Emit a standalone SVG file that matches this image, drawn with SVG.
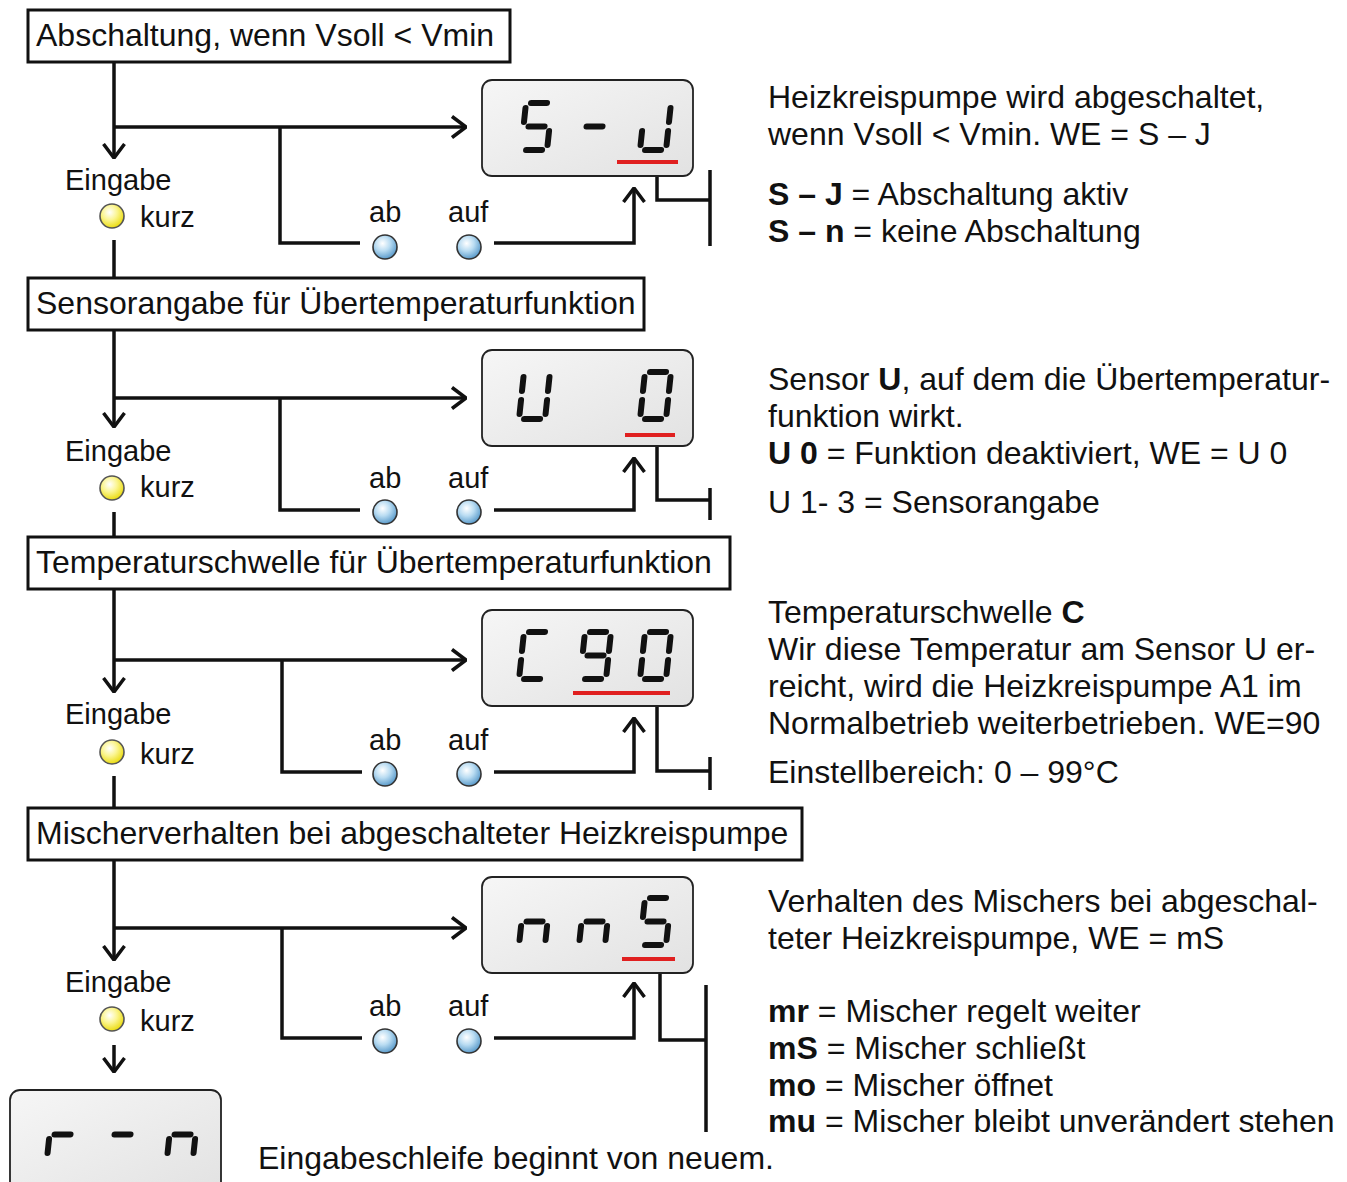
<svg xmlns="http://www.w3.org/2000/svg" xmlns:xlink="http://www.w3.org/1999/xlink" width="1347" height="1182" viewBox="0 0 1347 1182">
<style>
text{font-family:"Liberation Sans",Arial,sans-serif;fill:#111}
.h{font-size:32px}
.t{font-size:32px}
.l{font-size:29px}
.b{font-weight:bold}
.hdr{fill:#fff;stroke:#111;stroke-width:3}
.ln{fill:none;stroke:#111;stroke-width:3.5}
.disp{fill:url(#dg);stroke:#222;stroke-width:1.8}
.seg{stroke:#111;stroke-width:6;stroke-linecap:round}
.red{stroke:#e02020;stroke-width:4}
.bl{fill:url(#bg);stroke:#333;stroke-width:1.6}
.ye{fill:url(#yg);stroke:#555;stroke-width:1.6}
</style>
<defs>
<linearGradient id="dg" x1="0" y1="0" x2="1" y2="1">
<stop offset="0" stop-color="#f6f6f6"/><stop offset="1" stop-color="#e2e2e2"/>
</linearGradient>
<radialGradient id="bg" cx="0.4" cy="0.35" r="0.7">
<stop offset="0" stop-color="#ffffff"/><stop offset="0.45" stop-color="#b9dcf2"/><stop offset="1" stop-color="#4f93c6"/>
</radialGradient>
<radialGradient id="yg" cx="0.4" cy="0.35" r="0.7">
<stop offset="0" stop-color="#ffffff"/><stop offset="0.45" stop-color="#fbf590"/><stop offset="1" stop-color="#e8d800"/>
</radialGradient>
<marker id="arr" viewBox="0 0 16 24" refX="15" refY="12" markerWidth="16" markerHeight="24" orient="auto" markerUnits="userSpaceOnUse">
<path d="M1,1.5 L15,12 L1,22.5" fill="none" stroke="#111" stroke-width="3.5"/>
</marker>
<line id="sa" class="seg" x1="5" y1="0" x2="21" y2="0"/>
<line id="sb" class="seg" x1="26" y1="5" x2="26" y2="19"/>
<line id="sc" class="seg" x1="26" y1="28" x2="26" y2="42"/>
<line id="sd" class="seg" x1="5" y1="47" x2="21" y2="47"/>
<line id="se" class="seg" x1="0" y1="28" x2="0" y2="42"/>
<line id="sf" class="seg" x1="0" y1="5" x2="0" y2="19"/>
<line id="sg" class="seg" x1="5" y1="23.5" x2="21" y2="23.5"/>
<g id="dS"><use href="#sa"/><use href="#sf"/><use href="#sg"/><use href="#sc"/><use href="#sd"/></g>
<g id="dMinus"><use href="#sg"/></g>
<g id="dJ"><use href="#sb"/><use href="#sc"/><use href="#sd"/><use href="#se"/></g>
<g id="dU"><use href="#sb"/><use href="#sc"/><use href="#sd"/><use href="#se"/><use href="#sf"/></g>
<g id="d0"><use href="#sa"/><use href="#sb"/><use href="#sc"/><use href="#sd"/><use href="#se"/><use href="#sf"/></g>
<g id="dC"><use href="#sa"/><use href="#sd"/><use href="#se"/><use href="#sf"/></g>
<g id="d9"><use href="#sa"/><use href="#sb"/><use href="#sc"/><use href="#sd"/><use href="#sf"/><use href="#sg"/></g>
<g id="dn"><use href="#sc"/><use href="#se"/><use href="#sg"/></g>
<g id="dr"><use href="#se"/><use href="#sg"/></g>
</defs>

<g id="connectors">
<line class="ln" x1="114" y1="62" x2="114" y2="158" marker-end="url(#arr)"/>
<line class="ln" x1="114" y1="127" x2="466" y2="127" marker-end="url(#arr)"/>
<polyline class="ln" points="280,127 280,243 360,243"/>
<polyline class="ln" points="494,243 634,243 634,188" marker-end="url(#arr)"/>
<polyline class="ln" points="657,163 657,200 710,200"/>
<line class="ln" x1="710" y1="170" x2="710" y2="246"/>
<line class="ln" x1="114" y1="240" x2="114" y2="278"/>
<line class="ln" x1="114" y1="330" x2="114" y2="427" marker-end="url(#arr)"/>
<line class="ln" x1="114" y1="398" x2="466" y2="398" marker-end="url(#arr)"/>
<polyline class="ln" points="280,398 280,510 360,510"/>
<polyline class="ln" points="494,510 634,510 634,458" marker-end="url(#arr)"/>
<polyline class="ln" points="657,436 657,500 710,500"/>
<line class="ln" x1="710" y1="488" x2="710" y2="520"/>
<line class="ln" x1="114" y1="512" x2="114" y2="537"/>
<line class="ln" x1="114" y1="589" x2="114" y2="692" marker-end="url(#arr)"/>
<line class="ln" x1="114" y1="660" x2="466" y2="660" marker-end="url(#arr)"/>
<polyline class="ln" points="282,660 282,772 362,772"/>
<polyline class="ln" points="494,772 634,772 634,718" marker-end="url(#arr)"/>
<polyline class="ln" points="657,694 657,771 710,771"/>
<line class="ln" x1="710" y1="757" x2="710" y2="790"/>
<line class="ln" x1="114" y1="776" x2="114" y2="808"/>
<line class="ln" x1="114" y1="860" x2="114" y2="960" marker-end="url(#arr)"/>
<line class="ln" x1="114" y1="928" x2="466" y2="928" marker-end="url(#arr)"/>
<polyline class="ln" points="282,928 282,1038 362,1038"/>
<polyline class="ln" points="494,1038 634,1038 634,983" marker-end="url(#arr)"/>
<polyline class="ln" points="660,960 660,1040 706,1040"/>
<line class="ln" x1="706" y1="985" x2="706" y2="1132"/>
<line class="ln" x1="114" y1="1045" x2="114" y2="1072" marker-end="url(#arr)"/>
</g>

<g id="hdr1"><rect class="hdr" x="28" y="10" width="482" height="52"/><text class="h" x="36" y="46">Abschaltung, wenn Vsoll &lt; Vmin</text></g>
<g id="disp1"><rect class="disp" x="482" y="80" width="211" height="96" rx="10"/>
<g transform="translate(526,103) skewX(-6)"><use href="#dS"/></g>
<g transform="translate(584,103) skewX(-6)"><use href="#dMinus"/></g>
<g transform="translate(645,103) skewX(-6)"><use href="#dJ"/></g>
<line class="red" x1="617" y1="162" x2="678" y2="162"/></g>
<g id="in1"><text class="l" x="65" y="190">Eingabe</text><circle class="ye" cx="112" cy="216" r="12"/><text class="l" x="140" y="227">kurz</text></g>
<g id="ab1"><text class="l" x="369" y="222">ab</text><circle class="bl" cx="385" cy="247" r="12"/></g>
<g id="auf1"><text class="l" x="448" y="222">auf</text><circle class="bl" cx="469" cy="247" r="12"/></g>
<g id="txt1">
<text class="t" x="768" y="108">Heizkreispumpe wird abgeschaltet,</text>
<text class="t" x="768" y="145">wenn Vsoll &lt; Vmin. WE = S – J</text>
<text class="t" x="768" y="205"><tspan class="b">S – J</tspan> = Abschaltung aktiv</text>
<text class="t" x="768" y="242"><tspan class="b">S – n</tspan> = keine Abschaltung</text>
</g>

<g id="hdr2"><rect class="hdr" x="28" y="278" width="616" height="52"/><text class="h" x="36" y="314">Sensorangabe für Übertemperaturfunktion</text></g>
<g id="disp2"><rect class="disp" x="482" y="350" width="211" height="96" rx="10"/>
<g transform="translate(524,372) skewX(-6)"><use href="#dU"/></g>
<g transform="translate(645,372) skewX(-6)"><use href="#d0"/></g>
<line class="red" x1="625" y1="435" x2="675" y2="435"/></g>
<g id="in2"><text class="l" x="65" y="461">Eingabe</text><circle class="ye" cx="112" cy="488" r="12"/><text class="l" x="140" y="497">kurz</text></g>
<g id="ab2"><text class="l" x="369" y="488">ab</text><circle class="bl" cx="385" cy="512" r="12"/></g>
<g id="auf2"><text class="l" x="448" y="488">auf</text><circle class="bl" cx="469" cy="512" r="12"/></g>
<g id="txt2">
<text class="t" x="768" y="390">Sensor <tspan class="b">U</tspan>, auf dem die Übertemperatur-</text>
<text class="t" x="768" y="427">funktion wirkt.</text>
<text class="t" x="768" y="464"><tspan class="b">U 0</tspan> = Funktion deaktiviert, WE = U 0</text>
<text class="t" x="768" y="513">U 1- 3 = Sensorangabe</text>
</g>

<g id="hdr3"><rect class="hdr" x="28" y="537" width="702" height="52"/><text class="h" x="36" y="573">Temperaturschwelle für Übertemperaturfunktion</text></g>
<g id="disp3"><rect class="disp" x="482" y="610" width="211" height="96" rx="10"/>
<g transform="translate(524,632) skewX(-6)"><use href="#dC"/></g>
<g transform="translate(585,632) skewX(-6)"><use href="#d9"/></g>
<g transform="translate(645,632) skewX(-6)"><use href="#d0"/></g>
<line class="red" x1="573" y1="693" x2="670" y2="693"/></g>
<g id="in3"><text class="l" x="65" y="724">Eingabe</text><circle class="ye" cx="112" cy="752" r="12"/><text class="l" x="140" y="764">kurz</text></g>
<g id="ab3"><text class="l" x="369" y="750">ab</text><circle class="bl" cx="385" cy="774" r="12"/></g>
<g id="auf3"><text class="l" x="448" y="750">auf</text><circle class="bl" cx="469" cy="774" r="12"/></g>
<g id="txt3">
<text class="t" x="768" y="623">Temperaturschwelle <tspan class="b">C</tspan></text>
<text class="t" x="768" y="660">Wir diese Temperatur am Sensor U er-</text>
<text class="t" x="768" y="697">reicht, wird die Heizkreispumpe A1 im</text>
<text class="t" x="768" y="734">Normalbetrieb weiterbetrieben. WE=90</text>
<text class="t" x="768" y="783">Einstellbereich: 0 – 99°C</text>
</g>

<g id="hdr4"><rect class="hdr" x="28" y="808" width="774" height="52"/><text class="h" x="36" y="844">Mischerverhalten bei abgeschalteter Heizkreispumpe</text></g>
<g id="disp4"><rect class="disp" x="482" y="877" width="211" height="96" rx="10"/>
<g transform="translate(524,898) skewX(-6)"><use href="#dn"/></g>
<g transform="translate(584,898) skewX(-6)"><use href="#dn"/></g>
<g transform="translate(645,898) skewX(-6)"><use href="#dS"/></g>
<line class="red" x1="622" y1="959" x2="675" y2="959"/></g>
<g id="in4"><text class="l" x="65" y="992">Eingabe</text><circle class="ye" cx="112" cy="1019" r="12"/><text class="l" x="140" y="1031">kurz</text></g>
<g id="ab4"><text class="l" x="369" y="1016">ab</text><circle class="bl" cx="385" cy="1041" r="12"/></g>
<g id="auf4"><text class="l" x="448" y="1016">auf</text><circle class="bl" cx="469" cy="1041" r="12"/></g>
<g id="txt4">
<text class="t" x="768" y="912">Verhalten des Mischers bei abgeschal-</text>
<text class="t" x="768" y="949">teter Heizkreispumpe, WE = mS</text>
<text class="t" x="768" y="1022"><tspan class="b">mr</tspan> = Mischer regelt weiter</text>
<text class="t" x="768" y="1059"><tspan class="b">mS</tspan> = Mischer schließt</text>
<text class="t" x="768" y="1096"><tspan class="b">mo</tspan> = Mischer öffnet</text>
<text class="t" x="768" y="1132"><tspan class="b">mu</tspan> = Mischer bleibt unverändert stehen</text>
</g>

<g id="disp5"><rect class="disp" x="10" y="1090" width="211" height="104" rx="10"/>
<g transform="translate(52,1111) skewX(-6)"><use href="#dr"/></g>
<g transform="translate(112,1111) skewX(-6)"><use href="#dMinus"/></g>
<g transform="translate(172,1111) skewX(-6)"><use href="#dn"/></g></g>
<g id="end"><text class="t" x="258" y="1169">Eingabeschleife beginnt von neuem.</text></g>
</svg>
